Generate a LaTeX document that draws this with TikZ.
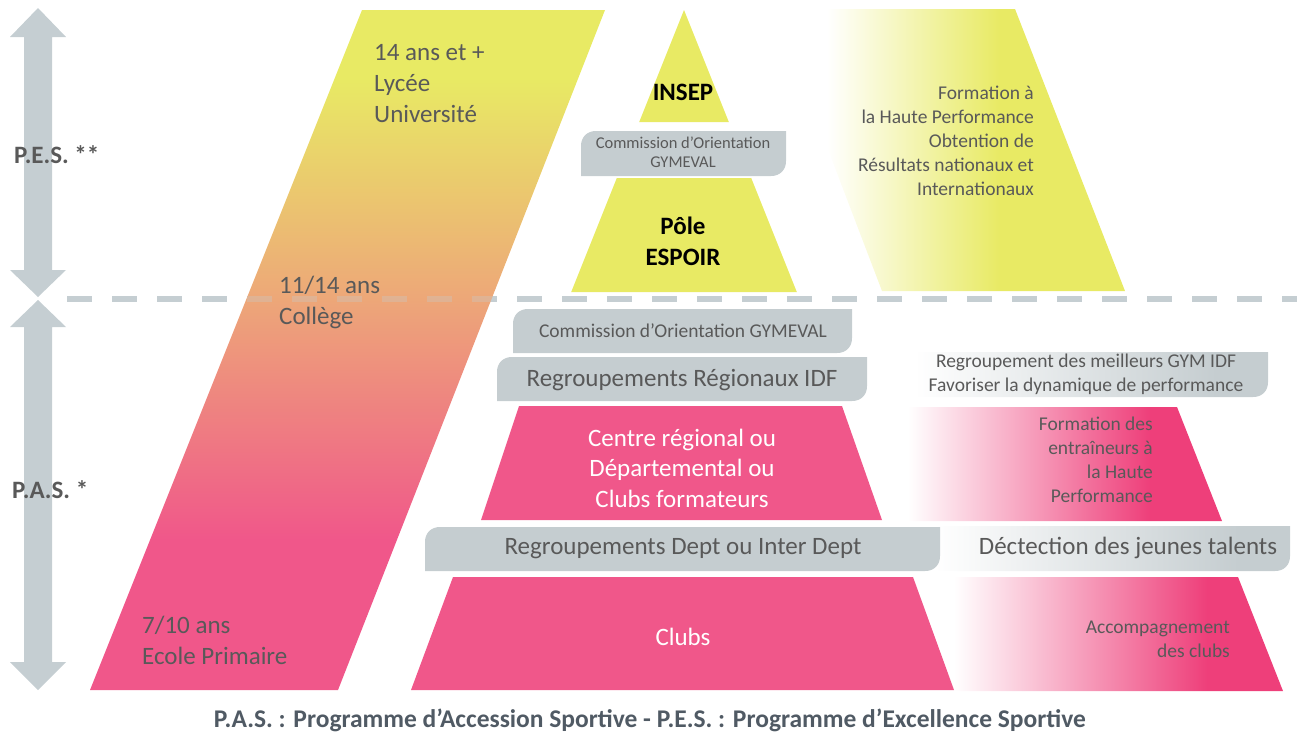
\documentclass[tikz,border=0pt]{standalone}
\usepackage{fontspec}
\setmainfont{Carlito}
\definecolor{arrowgray}{HTML}{C5CED2}
\definecolor{yellowc}{HTML}{E8EA64}
\definecolor{orangec}{HTML}{EDA878}
\definecolor{pinkc}{HTML}{F0578A}
\definecolor{pinkdeep}{HTML}{EE3F7A}
\definecolor{boxgray}{HTML}{C5CDD0}
\definecolor{textgray}{HTML}{595959}
\definecolor{capgray}{HTML}{505A64}
\pgfdeclareverticalshading{leftgrad}{100bp}{color(0bp)=(pinkc); color(36bp)=(pinkc); color(54bp)=(orangec); color(70bp)=(yellowc); color(100bp)=(yellowc)}
\pgfdeclarehorizontalshading{yfade}{100bp}{color(0bp)=(white); color(25bp)=(white); color(54bp)=(yellowc); color(100bp)=(yellowc)}
\pgfdeclarehorizontalshading{pfade}{100bp}{color(0bp)=(white); color(27bp)=(white); color(64bp)=(pinkdeep); color(100bp)=(pinkdeep)}
\pgfdeclarehorizontalshading{gfade}{100bp}{color(0bp)=(white); color(27bp)=(white); color(68bp)=(boxgray); color(100bp)=(boxgray)}
\newcommand\mygbox[5]{\path[#1] (#2,#5) -- (#2,{#3+15}) .. controls (#2,{#3+6}) and ({#2+6},#3) .. ({#2+15},#3) -- (#4,#3) -- (#4,{#5-15}) .. controls (#4,{#5-6}) and ({#4-6},#5) .. ({#4-15},#5) -- cycle;}
\tikzset{
  big/.style={font=\fontsize{25}{31}\selectfont, text=textgray, inner sep=0pt},
  mid/.style={font=\fontsize{19.5}{24}\selectfont, text=textgray, inner sep=0pt},
  small/.style={font=\fontsize{16.5}{19}\selectfont, text=textgray, inner sep=0pt},
  whitetxt/.style={font=\fontsize{25}{30.5}\selectfont, text=white, inner sep=0pt},
  boldtxt/.style={font=\fontsize{25}{31}\selectfont\bfseries, text=black, inner sep=0pt},
  sidetxt/.style={font=\fontsize{25}{28}\selectfont\bfseries, text=textgray, inner sep=0pt},
}
\begin{document}
\begin{tikzpicture}[x=1pt,y=-1pt]
\useasboundingbox (0,0) rectangle (1297,734);
% left double arrows
\fill[arrowgray] (38,8) -- (66,37) -- (52,37) -- (52,270) -- (66,270) -- (38,297) -- (10,270) -- (24,270) -- (24,37) -- (10,37) -- cycle;
\fill[arrowgray] (38,300) -- (66,327) -- (52,327) -- (52,662) -- (66,662) -- (38,690) -- (10,662) -- (24,662) -- (24,327) -- (10,327) -- cycle;
\node[sidetxt, anchor=west] (pes) at (14,155) {P.E.S. **};
\node[sidetxt, anchor=west] (pas) at (12,490) {P.A.S. *};
% dashed separator
\draw[arrowgray, line width=6pt, dash pattern=on 25pt off 20pt] (67,299) -- (1297,299);
% right side faded shapes (drawn first, behind the pyramid)
\mygbox{shade, shading=gfade}{900}{352}{1268}{397}
\path[shade, shading=pfade] (895,407) -- (1177,407) -- (1222,521) -- (895,521) -- cycle;
\mygbox{shade, shading=gfade}{920}{526}{1290}{571}
\path[shade, shading=pfade] (940,577) -- (1238,577) -- (1283,691) -- (940,691) -- cycle;
% left age band
\path[shade, shading=leftgrad] (90,690) -- (338,690) -- (605,10) -- (362,10) -- cycle;
\begin{scope}
\clip (90,690) -- (338,690) -- (605,10) -- (362,10) -- cycle;
\draw[arrowgray, opacity=0.3, line width=6pt, dash pattern=on 25pt off 20pt] (67,299) -- (1297,299);
\end{scope}
\node[big, anchor=west, align=left] (age1) at (374,84) {14 ans et +\\Lycée\\Université};
\node[big, anchor=west, align=left] (age2) at (279,302.5) {11/14 ans\\Collège};
\node[big, anchor=west, align=left] (age3) at (142,640) {7/10 ans\\Ecole Primaire};
% top pyramid
\fill[yellowc] (684,10) -- (728.8,122) -- (639.2,122) -- cycle;
\fill[yellowc] (616.8,178) -- (751.2,178) -- (796.8,292) -- (571.2,292) -- cycle;
\node[boldtxt] (insep) at (683,92) {INSEP};
\mygbox{fill=boxgray}{581}{131}{786}{176}
\node[small, align=center] (com1) at (683,152.5) {Commission d’Orientation\\GYMEVAL};
\node[boldtxt, align=center] (pole) at (683,241) {Pôle\\ESPOIR};
% right yellow band
\path[shade, shading=yfade] (827,9) -- (1015,9) -- (1125,291) -- (882,291) -- (827,147) -- cycle;
\node[mid, anchor=east, align=right] (form1) at (1034,141) {Formation à\\la Haute Performance\\Obtention de\\Résultats nationaux et\\Internationaux};
% lower pyramid
\mygbox{fill=boxgray}{513}{309}{852}{353}
\node[mid] (com2) at (683,331) {Commission d’Orientation GYMEVAL};
\mygbox{fill=boxgray}{497}{357}{867}{401}
\node[big] (regio) at (682,380) {Regroupements Régionaux IDF};
\fill[pinkc] (519,406) -- (842,406) -- (882,520) -- (481,520) -- cycle;
\node[whitetxt, align=center] (centre) at (682,468) {Centre régional ou\\Départemental ou\\Clubs formateurs};
\mygbox{fill=boxgray}{425}{527}{940}{571}
\node[big] (dept) at (683,549) {Regroupements Dept ou Inter Dept};
\fill[pinkc] (453,577) -- (913,577) -- (954,690) -- (411,690) -- cycle;
\node[whitetxt] (clubs) at (683,637) {Clubs};
% right side texts
\node[mid, align=center] (meill) at (1086,374) {Regroupement des meilleurs GYM IDF\\Favoriser la dynamique de performance};
\node[mid, anchor=east, align=right] (entr) at (1153,460) {Formation des\\entraîneurs à\\la Haute\\Performance};
\node[big] (detec) at (1128,548) {Déctection des jeunes talents};
\node[mid, anchor=east, align=right] (accomp) at (1230,639) {Accompagnement\\des clubs};
% caption
\node[font=\fontsize{25.5}{28}\selectfont\bfseries, text=capgray, inner sep=0pt] (caption) at (650,720) {P.A.S. : Programme d’Accession Sportive - P.E.S. : Programme d’Excellence Sportive};
\end{tikzpicture}
\end{document}
